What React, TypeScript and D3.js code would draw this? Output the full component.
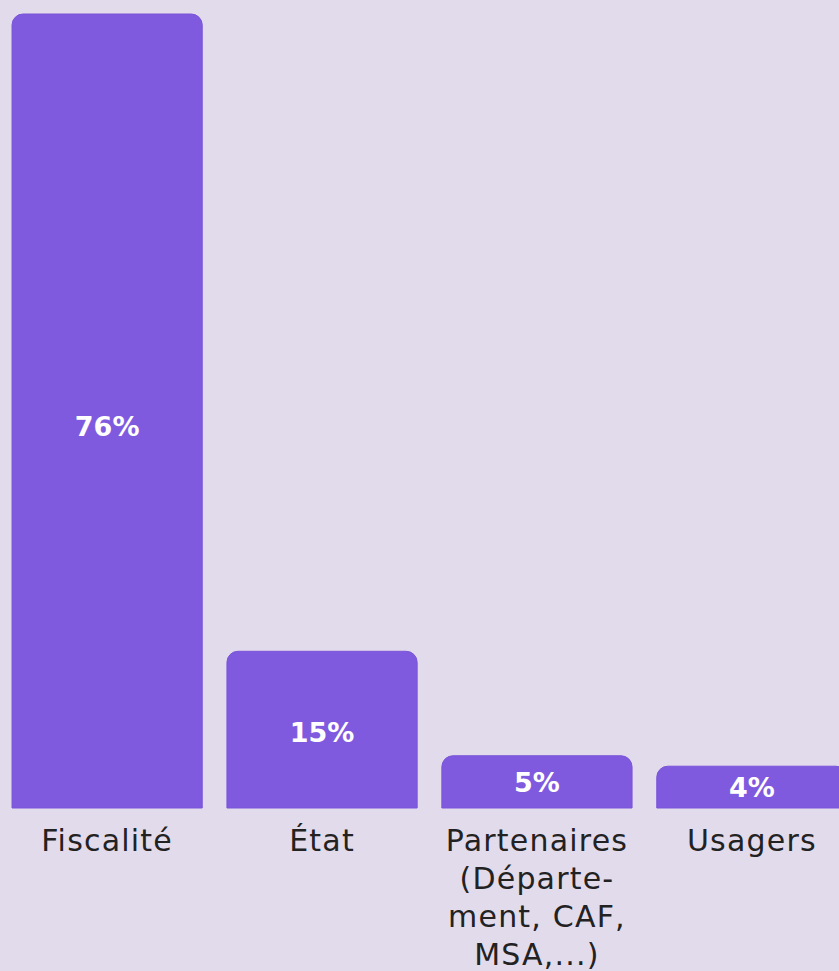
import React, { useEffect } from "react";
import * as d3 from "d3";

const categories = ["Fiscalité", "État", "Partenaires", "Usagers"];
const values = [76, 15, 5, 4];
const valueLabels = ["76%", "15%", "5%", "4%"];
const categoryLines = [
  ["Fiscalité"],
  ["État"],
  ["Partenaires", "(Départe-", "ment, CAF,", "MSA,...)"],
  ["Usagers"],
];

const W = 839;
const H = 971;
const BG = "#e2dbec";
const BAR = "#7f5adf";
const FONT = "'DejaVu Sans', sans-serif";

function topRoundedRect(x: number, y: number, w: number, h: number, r: number) {
  const rr = Math.min(r, h, w / 2);
  const p = d3.path();
  p.moveTo(x, y + h);
  p.lineTo(x, y + rr);
  p.arcTo(x, y, x + rr, y, rr);
  p.lineTo(x + w - rr, y);
  p.arcTo(x + w, y, x + w, y + rr, rr);
  p.lineTo(x + w, y + h);
  p.closePath();
  return p.toString();
}

export default function App() {
  useEffect(() => {
    document.body.style.margin = "0";
  }, []);

  const x = d3
    .scaleBand<string>()
    .domain(categories)
    .range([0, 859])
    .paddingInner(0.115)
    .paddingOuter(0.056);
  const y = d3.scaleLinear().domain([0, 76]).range([808, 14]);

  return (
    <svg width={W} height={H} style={{ display: "block", position: "absolute", left: 0, top: 0 }}>
      <rect x={0} y={0} width={W} height={H} fill={BG} />
      {categories.map((c, i) => {
        const bx = x(c)!;
        const bw = x.bandwidth();
        const top = y(values[i]);
        const cx = bx + bw / 2;
        return (
          <g key={c}>
            <path
              d={topRoundedRect(bx, top, bw, y(0) - top, 11)}
              fill={BAR}
              stroke="#7a55d9"
              strokeWidth={1}
            />
            <text
              x={cx}
              y={y(values[i] * 0.48)}
              dy="0.35em"
              textAnchor="middle"
              fill="#ffffff"
              fontFamily={FONT}
              fontWeight="bold"
              fontSize={27}
            >
              {valueLabels[i]}
            </text>
            <text
              x={cx}
              y={851}
              textAnchor="middle"
              fill="#222222"
              fontFamily={FONT}
              fontSize={30}
              letterSpacing={1.2}
            >
              {categoryLines[i].map((l, j) => (
                <tspan key={j} x={cx} dy={j === 0 ? 0 : 38}>
                  {l}
                </tspan>
              ))}
            </text>
          </g>
        );
      })}
    </svg>
  );
}
